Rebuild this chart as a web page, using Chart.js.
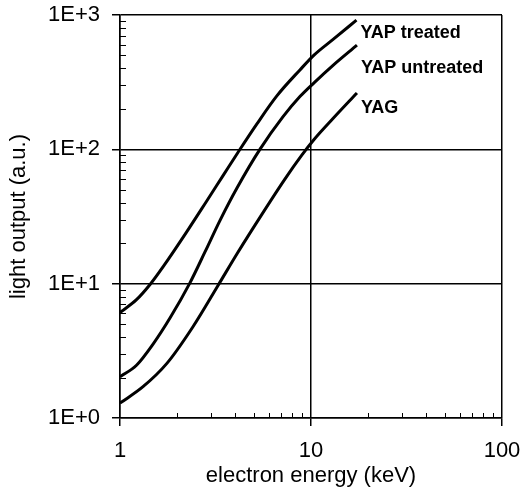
<!DOCTYPE html>
<html>
<head>
<meta charset="utf-8">
<script src="https://cdn.jsdelivr.net/npm/chart.js@4.4.0/dist/chart.umd.min.js"></script>
<style>
  html, body { margin: 0; padding: 0; background: #fff; }
  #wrap { width: 529px; height: 489px; }
</style>
</head>
<body>
<div id="wrap"><canvas id="light-output" width="529" height="489"></canvas></div>
<script>
// values: electron energy (keV) vs light output (a.u.)
const treated_energy = [1, 1.22, 1.44, 1.69, 2.23, 2.84, 3.47, 4.16, 5.2, 6.61, 8.75, 10.4, 13.1, 17.3];
const treated_light = [6.1, 7.6, 9.9, 13.5, 24.2, 41.1, 64, 95.5, 154, 249, 390, 505, 661, 916];

const untreated_energy = [1, 1.22, 1.49, 1.83, 2.32, 2.79, 3.34, 4.09, 5.39, 7.14, 8.75, 10.4, 13.0, 17.4];
const untreated_light = [2.03, 2.47, 3.55, 5.57, 10.1, 17.3, 29.6, 51.3, 99.5, 175, 247, 314, 420, 596];

const yag_energy = [1, 1.32, 1.76, 2.41, 3.26, 4.1, 4.78, 7.3, 8.95, 10.4, 13.0, 17.4];
const yag_light = [1.29, 1.71, 2.55, 4.78, 9.7, 16.7, 23.7, 60.1, 90.6, 119, 169, 263];

const series_names = ["YAP treated", "YAP untreated", "YAG"];
const x_ticks = [1, 10, 100];
const y_ticks = [1, 10, 100, 1000];

const FONT = "'Liberation Sans', Arial, sans-serif";

function toPoints(xs, ys) {
    return xs.map((x, i) => ({ x: x, y: ys[i] }));
}

// little inward ticks at 2..9 of every decade
const minorTicksPlugin = {
    id: "minorTicks",
    afterDraw(chart) {
        const { ctx, chartArea, scales } = chart;
        ctx.save();
        ctx.strokeStyle = "#000";
        ctx.lineWidth = 1;
        ctx.beginPath();
        for (let d = 1; d < 1000; d *= 10) {
            for (let m = 2; m < 10; m++) {
                const v = d * m;
                const py = Math.round(scales.y.getPixelForValue(v)) + 0.5;
                ctx.moveTo(chartArea.left, py);
                ctx.lineTo(chartArea.left + 6, py);
                if (d < 100) {
                    const px = Math.round(scales.x.getPixelForValue(v)) + 0.5;
                    ctx.moveTo(px, chartArea.bottom);
                    ctx.lineTo(px, chartArea.bottom - 5);
                }
            }
        }
        ctx.stroke();
        ctx.restore();
    }
};

// series names written next to the end of each curve
const curveLabelPlugin = {
    id: "curveLabels",
    afterDatasetsDraw(chart, args, opts) {
        const { ctx } = chart;
        ctx.save();
        ctx.fillStyle = "#000";
        ctx.font = opts.font;
        ctx.textAlign = "left";
        ctx.textBaseline = "middle";
        chart.data.datasets.forEach((ds, i) => {
            const meta = chart.getDatasetMeta(i);
            const last = meta.data[meta.data.length - 1];
            ctx.fillText(ds.label, last.x + opts.dx, last.y + opts.dy[i]);
        });
        ctx.restore();
    }
};

const line_style = {
    borderColor: "#000",
    borderWidth: 3,
    pointRadius: 0,
    fill: false,
    tension: 0.4,
    cubicInterpolationMode: "monotone"
};

new Chart(document.getElementById("light-output").getContext("2d"), {
    type: "line",
    data: {
        datasets: [
            { label: series_names[0], data: toPoints(treated_energy, treated_light), ...line_style },
            { label: series_names[1], data: toPoints(untreated_energy, untreated_light), ...line_style },
            { label: series_names[2], data: toPoints(yag_energy, yag_light), ...line_style }
        ]
    },
    options: {
        responsive: false,
        animation: false,
        devicePixelRatio: 1,
        layout: { padding: { left: 0, right: 27, top: 15, bottom: 0 } },
        plugins: {
            legend: { display: false },
            tooltip: { enabled: false },
            curveLabels: { font: "bold 18px " + FONT, dx: 4, dy: [13, 23, 15] }
        },
        scales: {
            x: {
                type: "logarithmic",
                position: "bottom",
                min: 1,
                max: 100,
                afterFit: (s) => { s.height = 71; s.paddingLeft = 0; s.paddingRight = 0; },
                afterBuildTicks: (s) => { s.ticks = x_ticks.map(v => ({ value: v, major: true })); },
                border: { display: true, color: "#000", width: 1.5 },
                grid: { color: "#000", lineWidth: 1.5, drawTicks: true, tickLength: 8, tickColor: "#000" },
                ticks: {
                    autoSkip: false,
                    maxRotation: 0,
                    color: "#000",
                    padding: 12,
                    font: { family: FONT, size: 22 },
                    callback: (v) => String(v)
                },
                title: {
                    display: true,
                    text: "electron energy (keV)",
                    color: "#000",
                    font: { family: FONT, size: 22 },
                    padding: { top: 3, bottom: 0 }
                }
            },
            y: {
                type: "logarithmic",
                position: "left",
                min: 1,
                max: 1000,
                afterFit: (s) => { s.width = 120; s.paddingTop = 0; s.paddingBottom = 0; },
                afterBuildTicks: (s) => { s.ticks = y_ticks.map(v => ({ value: v, major: true })); },
                border: { display: true, color: "#000", width: 1.5 },
                grid: { color: "#000", lineWidth: 1.5, drawTicks: true, tickLength: 8, tickColor: "#000" },
                ticks: {
                    autoSkip: false,
                    color: "#000",
                    padding: 12,
                    font: { family: FONT, size: 22 },
                    callback: (v) => "1E+" + Math.round(Math.log10(v))
                },
                title: {
                    display: true,
                    text: "light output (a.u.)",
                    color: "#000",
                    font: { family: FONT, size: 22 },
                    padding: { top: 6, bottom: 0 }
                }
            }
        }
    },
    plugins: [minorTicksPlugin, curveLabelPlugin]
});
</script>
</body>
</html>
